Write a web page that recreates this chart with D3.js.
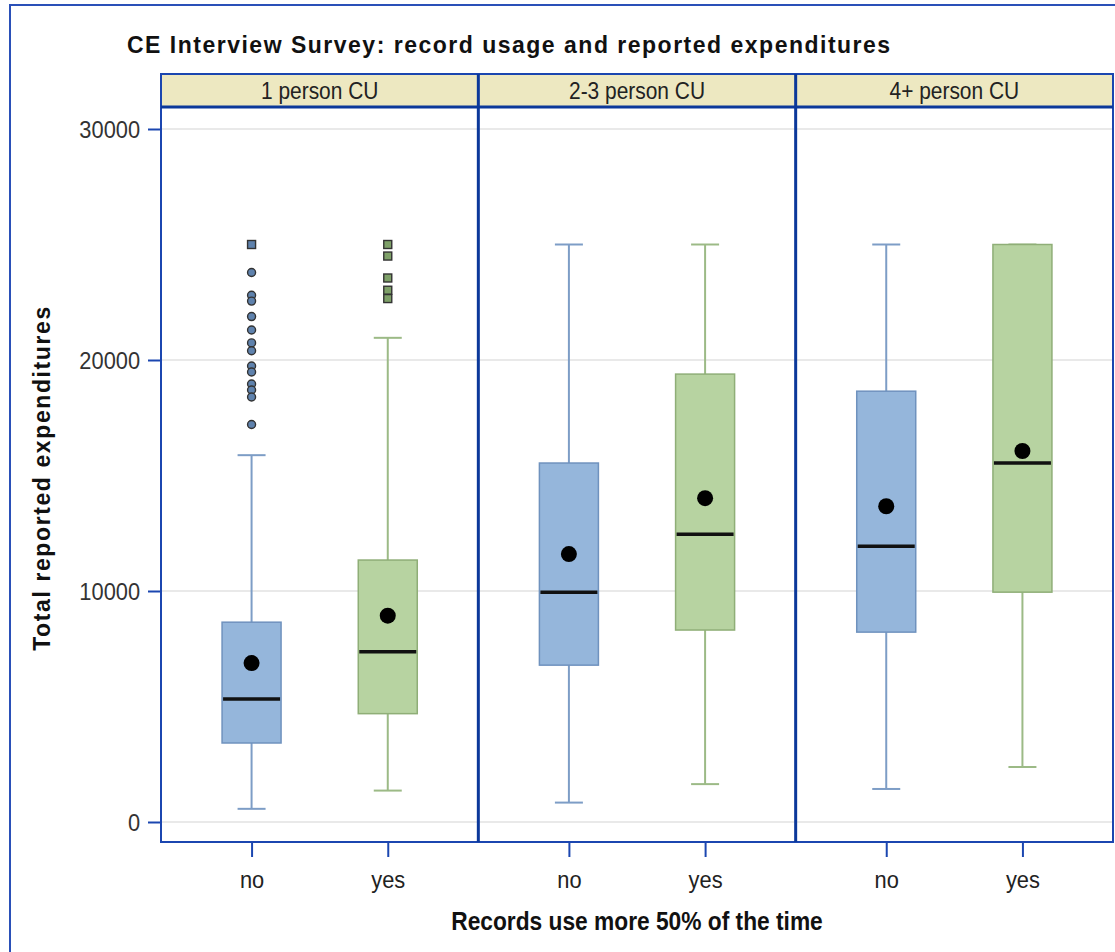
<!DOCTYPE html>
<html>
<head>
<meta charset="utf-8">
<script src="https://cdn.jsdelivr.net/npm/d3@7"></script>
<style>
  html, body { margin: 0; padding: 0; background: #fff; }
  svg { display: block; }
  text { font-family: "Liberation Sans", Arial, sans-serif; fill: #222; }
</style>
</head>
<body>
<svg id="chart" width="1115" height="952"></svg>
<script>
// Household-size panels and record-usage groups
const panels = ["1 person CU", "2-3 person CU", "4+ person CU"];
const groups = ["no", "yes"];
const yTicks = [0, 10000, 20000, 30000];

// Box statistics, one row per panel, [no, yes]
const whiskerLow  = [[570, 1360], [840, 1640], [1430, 2380]];
const quartile1   = [[3420, 4690], [6790, 8310], [8220, 9950]];
const medians     = [[5320, 7370], [9950, 12460], [11940, 15540]];
const quartile3   = [[8650, 11340], [15540, 19390], [18650, 25000]];
const whiskerHigh = [[15880, 20960], [25000, 25000], [25000, 25000]];
const means       = [[6880, 8930], [11600, 14020], [13670, 16060]];

// Outliers in the 1 person panel
const outliersNo  = [23790, 22800, 22550, 21880, 21300, 20740, 20400, 19740, 19480, 18960, 18700, 18400, 17210];
const farOutliersNo  = [25000];
const farOutliersYes = [25000, 24500, 23550, 23020, 22660];

const svg = d3.select("#chart");
const W = 1115, H = 952;
const plotLeft = 161, plotRight = 1113, plotTop = 107, plotBottom = 842;
const stripTop = 74;
const narrow = "scale(0.91,1)";

const colors = {
  no:  { fill: "#95b6db", stroke: "#6f92be", whisker: "#7d9dc6", outlier: "#5f82ad" },
  yes: { fill: "#b7d3a1", stroke: "#8fae77", whisker: "#9cba86", outlier: "#7ea068" }
};
const frameBlue = "#1b46b0";
const divBlue = "#0b389a";

// outer frame
svg.append("rect")
  .attr("x", 10).attr("y", 5).attr("width", W).attr("height", H)
  .attr("fill", "none").attr("stroke", "#2a50b8").attr("stroke-width", 2);

const y = d3.scaleLinear().domain([0, 30000]).range([822, 129]);
const xPanel = d3.scaleBand().domain(panels).range([plotLeft, plotRight]);
const xGroup = d3.scalePoint().domain(groups).range([0, xPanel.bandwidth()]).padding(0.665);
const boxW = 59, capW = 28;

// title
svg.append("text")
  .attr("x", 127).attr("y", 53)
  .style("font-weight", "bold").style("font-size", "23px")
  .style("letter-spacing", "1.5px")
  .style("fill", "#111")
  .text("CE Interview Survey: record usage and reported expenditures");

// gridlines
const grid = svg.append("g");
grid.selectAll("line").data(yTicks).join("line")
  .attr("x1", plotLeft).attr("x2", plotRight)
  .attr("y1", d => y(d)).attr("y2", d => y(d))
  .attr("stroke", "#e9e9e9").attr("stroke-width", 2);

// y axis
const yAxis = svg.append("g").attr("transform", `translate(${plotLeft},0)`)
  .call(d3.axisLeft(y).tickValues(yTicks).tickFormat(d3.format("d")).tickSize(13).tickPadding(8));
yAxis.select(".domain").remove();
yAxis.selectAll(".tick line").attr("stroke", frameBlue).attr("stroke-width", 2);
yAxis.selectAll(".tick text")
  .style("font-size", "24px").style("fill", "#333")
  .attr("x", -23)
  .attr("transform", narrow)
  .attr("dy", "0.36em");

// y title
svg.append("text")
  .attr("transform", "translate(50,478) rotate(-90)")
  .attr("text-anchor", "middle")
  .style("font-weight", "bold").style("font-size", "23px")
  .style("letter-spacing", "1.6px")
  .style("fill", "#111")
  .text("Total reported expenditures");

// x title
svg.append("text")
  .attr("transform", `translate(637,930) ${narrow}`)
  .attr("text-anchor", "middle")
  .style("font-weight", "bold").style("font-size", "25px")
  .style("fill", "#111")
  .text("Records use more 50% of the time");

panels.forEach((p, pi) => {
  const px = xPanel(p);
  const g = svg.append("g").attr("transform", `translate(${px},0)`);

  // header strip
  g.append("rect")
    .attr("x", 0).attr("y", stripTop)
    .attr("width", xPanel.bandwidth()).attr("height", plotTop - stripTop)
    .attr("fill", "#ede8c1");
  g.append("text")
    .attr("transform", `translate(${xPanel.bandwidth() / 2},99) ${narrow}`)
    .attr("text-anchor", "middle")
    .style("font-size", "23px").style("fill", "#222")
    .text(p);

  // x axis ticks and labels
  const xAxis = g.append("g").attr("transform", `translate(0,${plotBottom})`)
    .call(d3.axisBottom(xGroup).tickSize(15).tickPadding(14));
  xAxis.select(".domain").remove();
  xAxis.selectAll(".tick line").attr("stroke", frameBlue).attr("stroke-width", 2);
  xAxis.selectAll(".tick text").style("font-size", "24px").style("fill", "#222")
    .attr("transform", narrow);

  groups.forEach((grp, gi) => {
    const cx = xGroup(grp);
    const c = colors[grp];
    const lo = whiskerLow[pi][gi], hi = whiskerHigh[pi][gi];
    const q1 = quartile1[pi][gi], q3 = quartile3[pi][gi];

    // whiskers
    g.append("line").attr("x1", cx).attr("x2", cx)
      .attr("y1", y(hi)).attr("y2", y(q3)).attr("stroke", c.whisker).attr("stroke-width", 2);
    g.append("line").attr("x1", cx).attr("x2", cx)
      .attr("y1", y(q1)).attr("y2", y(lo)).attr("stroke", c.whisker).attr("stroke-width", 2);
    [lo, hi].forEach(v => {
      g.append("line").attr("x1", cx - capW / 2).attr("x2", cx + capW / 2)
        .attr("y1", y(v)).attr("y2", y(v)).attr("stroke", c.whisker).attr("stroke-width", 2);
    });

    // box
    g.append("rect")
      .attr("x", cx - boxW / 2).attr("y", y(q3))
      .attr("width", boxW).attr("height", y(q1) - y(q3))
      .attr("fill", c.fill).attr("stroke", c.stroke).attr("stroke-width", 1.5);

    // median
    g.append("line")
      .attr("x1", cx - boxW / 2 + 1).attr("x2", cx + boxW / 2 - 1)
      .attr("y1", y(medians[pi][gi])).attr("y2", y(medians[pi][gi]))
      .attr("stroke", "#111").attr("stroke-width", 3.5);

    // mean
    g.append("circle")
      .attr("cx", cx).attr("cy", y(means[pi][gi])).attr("r", 8)
      .attr("fill", "#000");
  });

  if (pi === 0) {
    const cxNo = xGroup("no"), cxYes = xGroup("yes");
    g.selectAll("circle.outNo").data(outliersNo).join("circle")
      .attr("class", "outNo")
      .attr("cx", cxNo).attr("cy", d => y(d)).attr("r", 4)
      .attr("fill", colors.no.outlier).attr("stroke", "#333").attr("stroke-width", 1.4);
    const sq = 8;
    g.selectAll("rect.farNo").data(farOutliersNo).join("rect")
      .attr("class", "farNo")
      .attr("x", cxNo - sq / 2).attr("y", d => y(d) - sq / 2).attr("width", sq).attr("height", sq)
      .attr("fill", colors.no.outlier).attr("stroke", "#333").attr("stroke-width", 1.4);
    g.selectAll("rect.farYes").data(farOutliersYes).join("rect")
      .attr("class", "farYes")
      .attr("x", cxYes - sq / 2).attr("y", d => y(d) - sq / 2).attr("width", sq).attr("height", sq)
      .attr("fill", colors.yes.outlier).attr("stroke", "#333").attr("stroke-width", 1.4);
  }
});

// panel frame, header lines and dividers
svg.append("rect")
  .attr("x", plotLeft).attr("y", stripTop)
  .attr("width", plotRight - plotLeft).attr("height", plotBottom - stripTop)
  .attr("fill", "none").attr("stroke", frameBlue).attr("stroke-width", 2);
svg.append("line")
  .attr("x1", plotLeft).attr("x2", plotRight).attr("y1", plotTop).attr("y2", plotTop)
  .attr("stroke", divBlue).attr("stroke-width", 3);
svg.selectAll("line.divider").data(panels.slice(1)).join("line")
  .attr("class", "divider")
  .attr("x1", d => xPanel(d)).attr("x2", d => xPanel(d))
  .attr("y1", stripTop).attr("y2", plotBottom)
  .attr("stroke", divBlue).attr("stroke-width", 3);
</script>
</body>
</html>
